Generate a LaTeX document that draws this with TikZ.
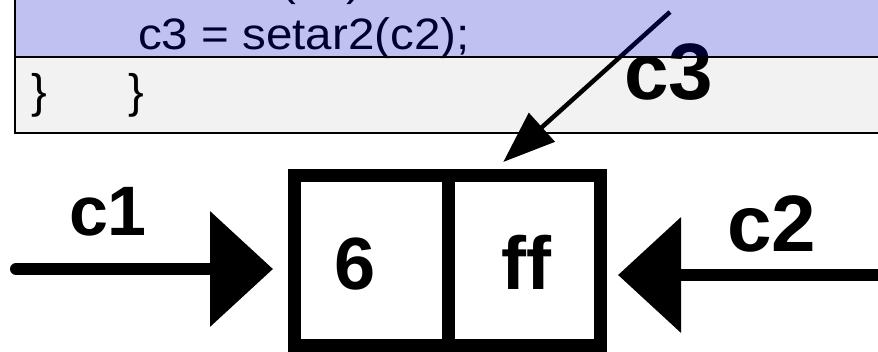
\documentclass[tikz,border=0pt]{standalone}
\usepackage{fontspec}
\setmainfont{Liberation Sans}
\newfontfamily\codefont[FakeStretch=1.08]{Liberation Sans}
\usetikzlibrary{arrows.meta,calc}
\definecolor{rowgray}{RGB}{242,242,242}
\definecolor{overlayblue}{RGB}{0,0,198}
\begin{document}
\begin{tikzpicture}[x=1pt,y=-1pt,
  cell/.style={draw,line width=13pt,inner sep=0pt,minimum height=170.5pt},
  codetxt/.style={anchor=base west,inner sep=0pt,font=\codefont\fontsize{44}{52}\selectfont},
  bracetxt/.style={anchor=base west,inner sep=0pt,font=\fontsize{47}{56}\selectfont},
  bigtxt/.style={anchor=base,inner sep=0pt,font=\bfseries\fontsize{#1}{#1}\selectfont},
  fatarrow/.style={line width=12pt,-{Triangle[length=63pt,width=113pt]}},
  thinarrow/.style={line width=4.5pt,-{Triangle[length=52pt,width=38pt]}}]
\useasboundingbox (0,0) rectangle (878,352);
\clip (0,0) rectangle (878,352);
% code table background
\fill[rowgray] (15,57) rectangle (890,133);
% code text
\node[codetxt] (prev) at (280,-4) {(c1)};
\node[codetxt] (code) at (138,50) {c3 = setar2(c2);};
\node[bracetxt] (br1) at (31,108) {\}};
\node[bracetxt] (br2) at (128,108) {\}};
% memory cells
\node[cell,minimum width=154pt] (cell6) at (371,260.75) {};
\node[cell,minimum width=152.5pt] (cellff) at (524.25,260.75) {};
\node[bigtxt=74] (t6) at (355,290) {6};
\node[bigtxt=75] (tff) at (526,290) {ff};
% labels
\node[bigtxt=70] (lc1) at (108,236) {c1};
\node[bigtxt=80] (lc2) at (772,252) {c2};
\node[bigtxt=80] (lc3) at (669,100) {c3};
% connectors
\coordinate (c1s) at (16,269);
\coordinate (c2s) at (900,275);
\coordinate (c3s) at (670,12);
\coordinate (c3e) at ($(cellff.north)+(-21,-7)$);
\draw[fatarrow,line cap=round,shorten >=14.5pt] (c1s) -- (c1s -| cell6.west);
\draw[fatarrow,shorten >=11pt] (c2s) -- (c2s -| cellff.east);
\draw[thinarrow] (c3s) -- (c3e);
% translucent blue row over the first line
\fill[overlayblue,fill opacity=0.243] (15,-10) rectangle (890,57);
% table rules
\draw[line width=2pt] (15,-10) -- (15,133) -- (890,133);
\draw[line width=2pt] (15,57) -- (890,57);
\end{tikzpicture}
\end{document}
